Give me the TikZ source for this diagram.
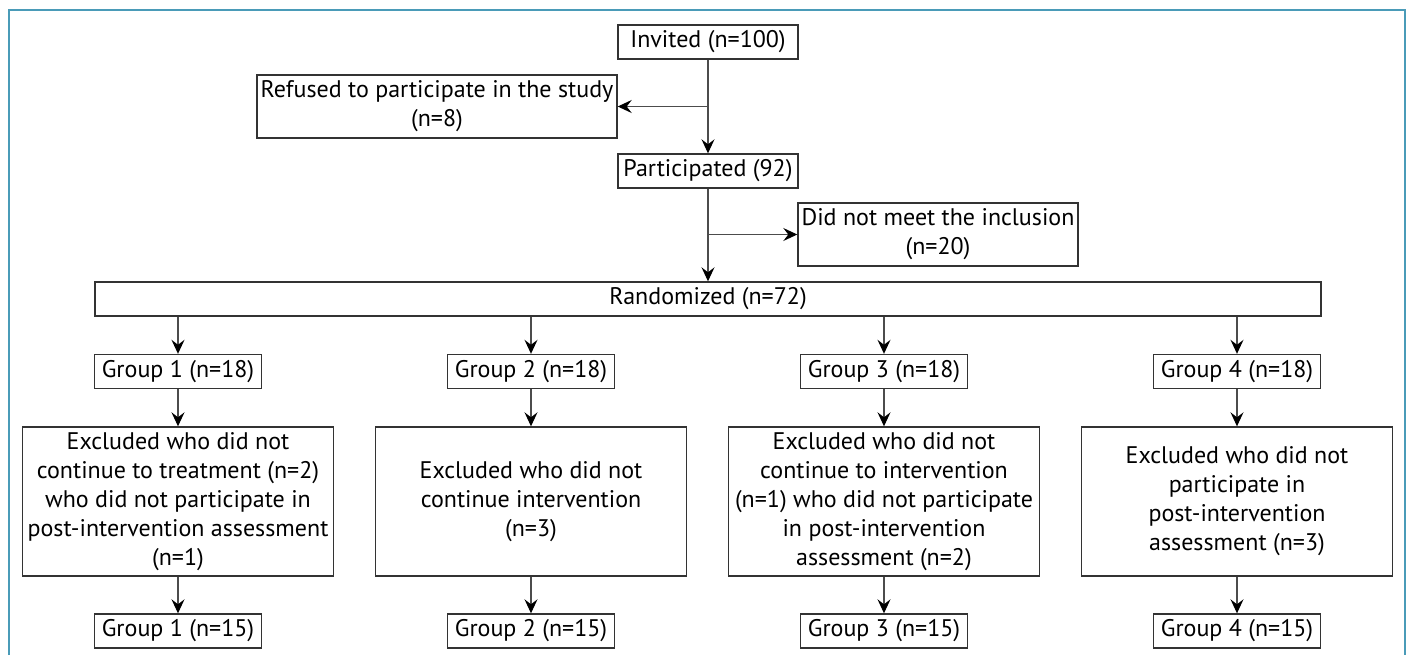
\documentclass[tikz,border=0pt]{standalone}
\usepackage{fontspec}
\setmainfont{PT Sans}
\usetikzlibrary{arrows.meta}
\definecolor{framecol}{RGB}{74,155,184}
\tikzset{
  box/.style={draw=black!80, line width=0.7pt, align=center, inner sep=0pt,
    font=\fontsize{12}{14.5}\selectfont},
  small/.style={box, minimum width=83.5pt, minimum height=17pt},
  wide/.style={box, minimum width=90pt, minimum height=17pt},
  side/.style={box, minimum height=31.5pt},
  excl/.style={box, minimum width=155.5pt, minimum height=74.5pt},
  arr/.style={draw=black!70, line width=0.6pt,
    -{Stealth[length=7pt, width=6.5pt, inset=2.5pt, black]}}
}
\begin{document}
\begin{tikzpicture}[x=0.5pt, y=-0.5pt]
            \useasboundingbox (0,0) rectangle (1410,655);
            \draw[framecol, line width=1pt] (9,655) -- (9,10) -- (1405,10) -- (1405,655);
            \node(inv) [wide] at (708,42) {Invited (n=100)};
            \node(ref) [side, minimum width=180pt] at (437,106.5) {Refused to participate in the study\\(n=8)};
            \node(part) [wide] at (708,171) {Participated (92)};
            \node(dnm) [side, minimum width=140pt] at (938,234.5) {Did not meet the inclusion\\(n=20)};
            \node(rand) [box, minimum width=613pt, minimum height=17pt] at (708,299) {Randomized (n=72)};
            % groups
            \node(g1) [small] at (178,371.5) {Group 1 (n=18)};
            \node(g2) [small] at (531,371.5) {Group 2 (n=18)};
            \node(g3) [small] at (884,371.5) {Group 3 (n=18)};
            \node(g4) [small] at (1237,371.5) {Group 4 (n=18)};
            \node(e1) [excl] at (178,501.5) {Excluded who did not\\continue to treatment (n=2)\\who did not participate in\\post-intervention assessment\\(n=1)};
            \node(e2) [excl] at (531,501.5) {Excluded who did not\\continue intervention\\(n=3)};
            \node(e3) [excl] at (884,501.5) {Excluded who did not\\continue to intervention\\(n=1) who did not participate\\in post-intervention\\assessment (n=2)};
            \node(e4) [excl] at (1237,501.5) {Excluded who did not\\participate in\\post-intervention\\assessment (n=3)};
            \node(f1) [small] at (178,631) {Group 1 (n=15)};
            \node(f2) [small] at (531,631) {Group 2 (n=15)};
            \node(f3) [small] at (884,631) {Group 3 (n=15)};
            \node(f4) [small] at (1237,631) {Group 4 (n=15)};
            \draw[arr] (inv) -- (part);
            \draw[arr] (inv.south |- ref.east) -- (ref);
            \draw[arr] (part) -- (rand);
            \draw[arr] (part.south |- dnm.west) -- (dnm);
            \foreach \i in {1,...,4} {
              \draw[arr] (rand.south -| g\i) -- (g\i);
              \draw[arr] (g\i) -- (e\i);
              \draw[arr] (e\i) -- (f\i);
            }
\end{tikzpicture}
\end{document}
